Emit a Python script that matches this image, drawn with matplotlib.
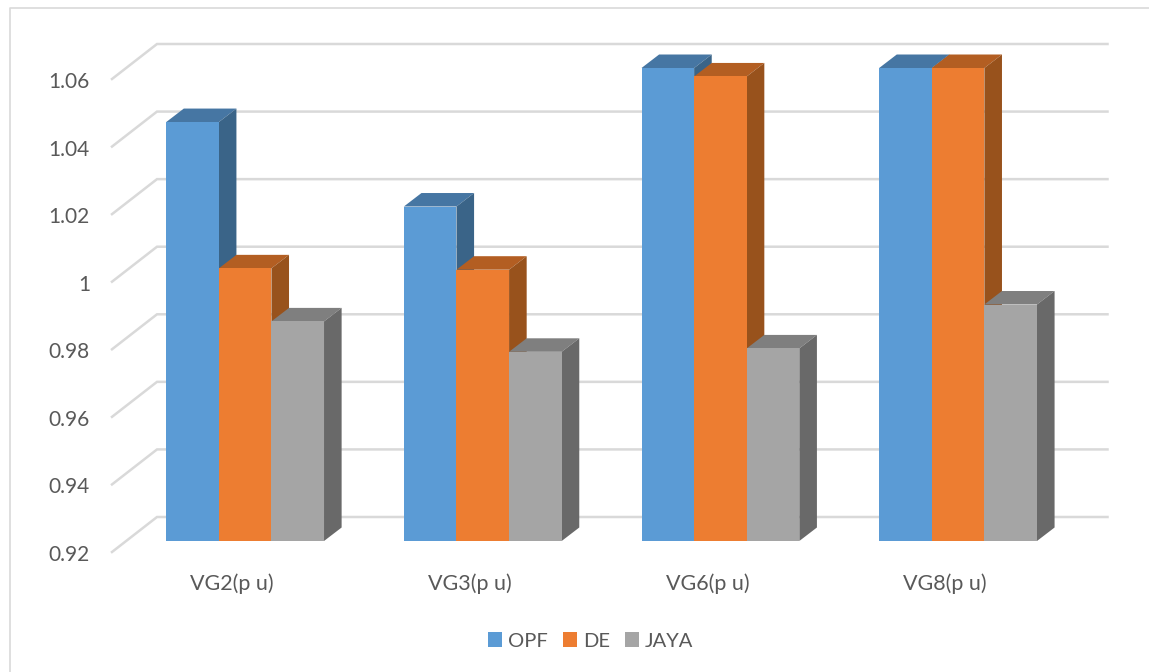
#voltage of the generator buses, excel style 3d columns
import matplotlib
matplotlib.use('Agg')
import matplotlib.pyplot as plt
from matplotlib.lines import Line2D
from matplotlib.transforms import ScaledTranslation

plt.rcParams['font.family'] = ['Lato', 'DejaVu Sans']

categories = ['VG2(p u)', 'VG3(p u)', 'VG6(p u)', 'VG8(p u)']
series_names = ['OPF', 'DE', 'JAYA']
OPF = [1.044, 1.019, 1.06, 1.06]
DE = [1.0007, 1.0003, 1.0575, 1.06]
JAYA = [0.985, 0.976, 0.977, 0.99]
yticks = [0.92, 0.94, 0.96, 0.98, 1.0, 1.02, 1.04, 1.06]
ylabels = ['0.92', '0.94', '0.96', '0.98', '1', '1.02', '1.04', '1.06']

front = ['#5b9bd5', '#ed7d31', '#a5a5a5']
top = ['#4676a3', '#b35e22', '#7f7f7f']
side = ['#3a6488', '#98521c', '#696969']
grid = '#d9d9d9'
text = '#595959'

W, H = 1149, 672
x0, x1 = 126.3, 1076.9   #pixels of the front plane
y0, y1 = 541, 68
sx = (x1-x0)/4
sy = (y0-y1)/0.14

fig = plt.figure(figsize=(W/100, H/100), dpi=100)
ax = fig.add_axes([x0/W, 1-y0/H, (x1-x0)/W, (y0-y1)/H])
ax.set_xlim(-0.5, 3.5)
ax.set_ylim(0.92, 1.06)
for s in ax.spines.values():
    s.set_visible(False)

#chart border, only top and left are in the crop
fig.add_artist(Line2D([9.5/W, 9.5/W, 1], [0, 1-7.5/H, 1-7.5/H], color=grid, lw=1.2))

#walls
gx_front = -0.5 + (112-x0)/sx
gx_back = -0.5 + (157-x0)/sx
gx_end = -0.5 + (1107.5-x0)/sx
for v in yticks:
    ax.plot([gx_front, gx_back, gx_end], [v-11/sy, v+24/sy, v+24/sy], color=grid, lw=1.8,
            clip_on=False, zorder=1, solid_joinstyle='miter')

#bars
bw = 52.6/sx
dx = 17.6/sx
dy = 13.5/sy
z = 2
for i, vals in enumerate([OPF, DE, JAYA]):
    for c, v in enumerate(vals):
        l = c + (i-1.5)*bw
        r = l + bw
        ax.fill([l, l+dx, r+dx, r], [v, v+dy, v+dy, v], color=top[i], lw=0, clip_on=False, zorder=z)
        ax.fill([r, r+dx, r+dx, r], [0.92, 0.92+dy, v+dy, v], color=side[i], lw=0, clip_on=False, zorder=z)
        ax.bar(l, v-0.92, bw, bottom=0.92, align='edge', color=front[i], lw=0, clip_on=False, zorder=z+1,
               label=series_names[i] if c == 0 else None)
    z += 2

ax.set_yticks(yticks)
ax.set_yticklabels(ylabels, fontsize=15, color=text)
ax.tick_params(axis='y', length=0, pad=26.2)
ax.set_xticks(range(4))
ax.set_xticklabels(categories, fontsize=15.5, color=text)
ax.tick_params(axis='x', length=0, pad=23.5)

off_y = ScaledTranslation(0, -12/100, fig.dpi_scale_trans)
for t in ax.get_yticklabels():
    t.set_transform(t.get_transform() + off_y)
off_x = ScaledTranslation(-13/100, 0, fig.dpi_scale_trans)
for t in ax.get_xticklabels():
    t.set_transform(t.get_transform() + off_x)

leg = fig.legend(loc='center', bbox_to_anchor=(590.5/W, 1-641/H), ncol=3, frameon=False, fontsize=14.5,
                 handlelength=0.7, handleheight=0.7, handletextpad=0.3, columnspacing=0.75,
                 borderpad=0, labelcolor=text)

fig.savefig('out.png', dpi=100)
